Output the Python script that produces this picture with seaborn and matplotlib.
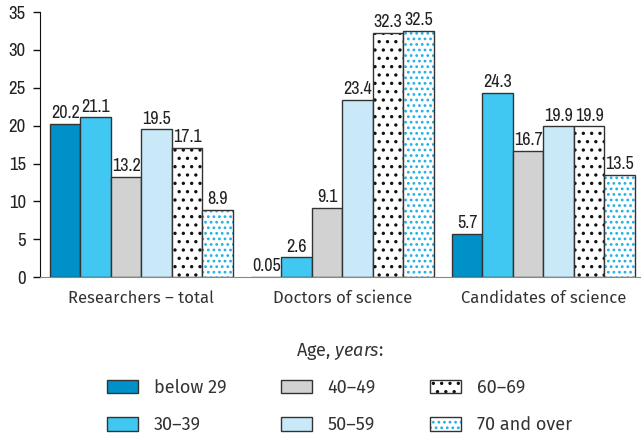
import matplotlib
matplotlib.use("Agg")
import numpy as np
import pandas as pd
import seaborn as sns
import matplotlib.pyplot as plt
from matplotlib.colors import to_rgba

# data
categories = ["Researchers – total", "Doctors of science", "Candidates of science"]
age_groups = ["below 29", "30–39", "40–49", "50–59", "60–69", "70 and over"]
below_29 = [20.2, 0.05, 5.7]
age_30_39 = [21.1, 2.6, 24.3]
age_40_49 = [13.2, 9.1, 16.7]
age_50_59 = [19.5, 23.4, 19.9]
age_60_69 = [17.1, 32.3, 19.9]
age_70_over = [8.9, 32.5, 13.5]
series = [below_29, age_30_39, age_40_49, age_50_59, age_60_69, age_70_over]

fills = ["#0091c9", "#40c8f2", "#d2d2d2", "#c9e9f9", "#ffffff", "#ffffff"]
hatches = [None, None, None, None, "..", "..."]
hatch_cols = [None, None, None, None, "#111111", "#1fb0e8"]

rows = []
for age, vals in zip(age_groups, series):
    for cat, v in zip(categories, vals):
        rows.append({"category": cat, "age": age, "value": v})
df = pd.DataFrame(rows)

num_font = ["Archivo Narrow", "Liberation Sans", "DejaVu Sans"]
txt_font = ["Fira Sans", "Noto Sans", "DejaVu Sans"]
txt_col = "#333333"

sns.set_style("white")
plt.rcParams["font.family"] = num_font
plt.rcParams["mathtext.fontset"] = "custom"
plt.rcParams["mathtext.rm"] = "Fira Sans"
plt.rcParams["mathtext.it"] = "Fira Sans:italic"
plt.rcParams["hatch.linewidth"] = 1.2

fig = plt.figure(figsize=(6.43, 4.33), dpi=100)
ax = fig.add_axes([0.062, 0.36, 0.933, 0.612])

sns.barplot(data=df, x="category", y="value", hue="age", hue_order=age_groups,
            order=categories, palette=fills, saturation=1, width=0.91,
            edgecolor="#333333", linewidth=1, legend=False, ax=ax)

for i, cont in enumerate(ax.containers):
    for p in cont.patches:
        p.set_facecolor(fills[i])
        p.set_edgecolor("#333333")
        if hatches[i]:
            p.set_hatch(hatches[i])
            if hasattr(p, "set_hatchcolor"):
                p.set_hatchcolor(hatch_cols[i])
            else:
                p._hatch_color = to_rgba(hatch_cols[i])
    ax.bar_label(cont, labels=[f"{v:g}" for v in series[i]], padding=2,
                 fontsize=13, color="#222222")

ax.set_ylim(0, 35)
ax.set_yticks(np.arange(0, 36, 5))
ax.set_xlim(-0.505, 2.48)
ax.set_xlabel("")
ax.set_ylabel("")
sns.despine(ax=ax)
ax.spines["left"].set_color("#111111")
ax.spines["bottom"].set_color("#888888")
ax.tick_params(axis="y", left=True, length=5, width=1, color="#111111",
               labelsize=13.5, labelcolor="#222222", pad=5)
ax.tick_params(axis="x", bottom=False, pad=6)
for lab in ax.get_xticklabels():
    lab.set_fontfamily(txt_font)
    lab.set_fontsize(12)
    lab.set_color(txt_col)

fs = 13
leg = fig.legend(handles=ax.containers, labels=age_groups, ncol=3,
                 loc="upper center", bbox_to_anchor=(0.528, 0.229),
                 frameon=False, title="Age, $\\mathit{years}$:",
                 prop={"family": txt_font, "size": fs},
                 handlelength=1.72, handleheight=0.78, handletextpad=0.88,
                 columnspacing=3.0, labelspacing=1.07, borderaxespad=0)
leg.get_title().set_fontfamily(txt_font)
leg.get_title().set_fontsize(fs)
leg.get_title().set_color(txt_col)
for t in leg.get_texts():
    t.set_color(txt_col)
leg._legend_box.sep = 12

fig.savefig("out.png", dpi=100)
